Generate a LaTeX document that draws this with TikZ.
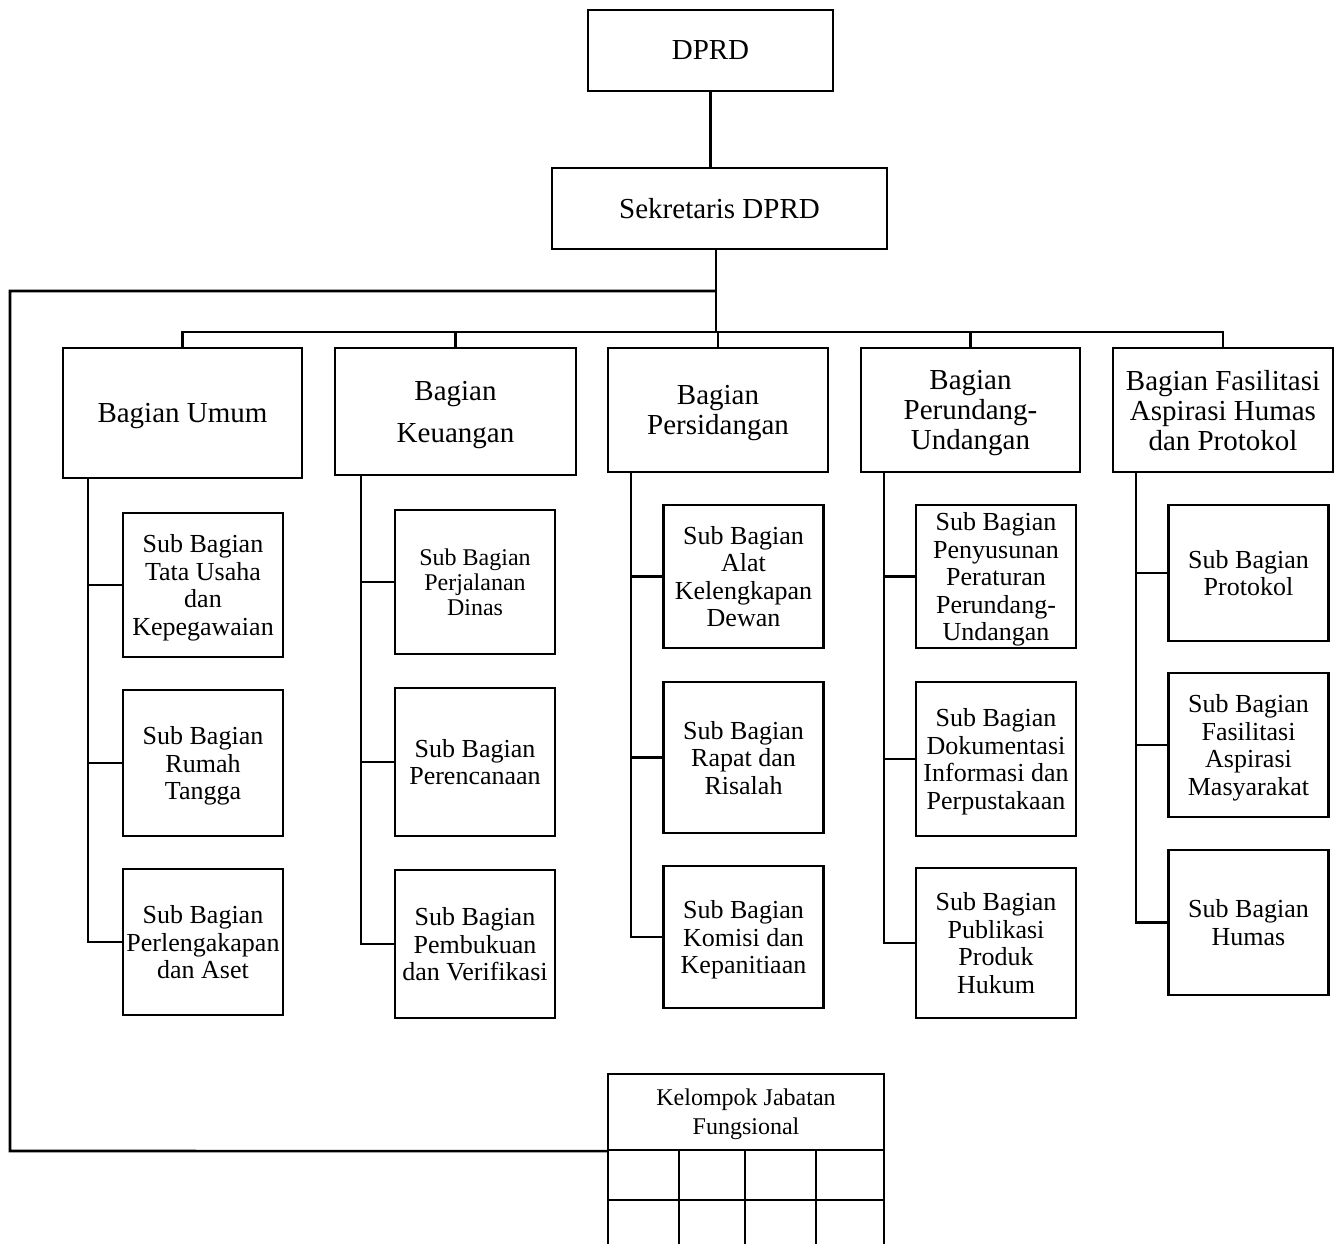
\documentclass[tikz,border=0pt]{standalone}
\usepackage{fontspec}
\setmainfont{Liberation Serif}
\usepackage{tikz}
\usetikzlibrary{positioning}
\tikzset{
  org diagram/.style={x=1pt, y=-1pt, line join=miter},
  org box/.style={draw, line width=2.2pt, inner sep=2pt, align=center,
    text depth=0pt, font=\fontsize{29}{30}\selectfont},
  org head box/.style={org box, minimum height=124pt},
  org sub box/.style={org box, minimum width=160pt,
    font=\fontsize{26}{27.5}\selectfont},
  org small/.style={font=\fontsize{24}{25}\selectfont},
  org line/.style={draw, line width=2.6pt},
  org grid/.style={draw, line width=2.2pt}
}

\begin{document}
\begin{tikzpicture}[org diagram]
\useasboundingbox (0,0) rectangle (1341,1243);
% top
\node[org box, minimum width=245pt, minimum height=81pt] (dprd) at (710.5,50.5) {DPRD};
\node[org box, minimum width=335pt, minimum height=81pt] (sek) at (719.5,208.5) {Sekretaris DPRD};
% bagian
\node[org head box, minimum width=239pt, minimum height=130pt] (umum) at (182.5,413) {Bagian Umum};
\node[org head box, minimum width=241pt, minimum height=127pt] (keu) at (455.5,411.5) {Bagian\\[12pt]Keuangan};
\node[org head box, minimum width=220pt] (sid) at (718,410) {Bagian\\Persidangan};
\node[org head box, minimum width=219pt] (pu) at (970.5,410) {Bagian\\Perundang-\\Undangan};
\node[org head box, minimum width=220pt] (fas) at (1223,410) {Bagian Fasilitasi\\Aspirasi Humas\\dan Protokol};
% sub bagian umum
\node[org sub box, minimum height=144pt] (su1) at (203,585) {Sub Bagian\\Tata Usaha\\dan\\Kepegawaian};
\node[org sub box, minimum height=146pt] (su2) at (203,763) {Sub Bagian\\Rumah\\Tangga};
\node[org sub box, minimum height=146pt] (su3) at (203,942) {Sub Bagian\\Perlengakapan\\dan Aset};
% sub bagian keuangan
\node[org sub box, org small, minimum height=144pt] (sk1) at (475,582) {Sub Bagian\\Perjalanan\\Dinas};
\node[org sub box, minimum height=148pt] (sk2) at (475,762) {Sub Bagian\\Perencanaan};
\node[org sub box, minimum height=148pt] (sk3) at (475,944) {Sub Bagian\\Pembukuan\\dan Verifikasi};
% sub bagian persidangan
\node[org sub box, minimum height=143pt] (ss1) at (743.5,576.5) {Sub Bagian\\Alat\\Kelengkapan\\Dewan};
\node[org sub box, minimum height=151pt] (ss2) at (743.5,757.5) {Sub Bagian\\Rapat dan\\Risalah};
\node[org sub box, minimum height=142pt] (ss3) at (743.5,937) {Sub Bagian\\Komisi dan\\Kepanitiaan};
% sub bagian perundang-undangan
\node[org sub box, minimum height=143pt] (sp1) at (996,576.5) {Sub Bagian\\Penyusunan\\Peraturan\\Perundang-\\Undangan};
\node[org sub box, minimum height=154pt] (sp2) at (996,759) {Sub Bagian\\Dokumentasi\\Informasi dan\\Perpustakaan};
\node[org sub box, minimum height=150pt] (sp3) at (996,943) {Sub Bagian\\Publikasi\\Produk\\Hukum};
% sub bagian fasilitasi
\node[org sub box, minimum height=136pt] (sf1) at (1248.5,573) {Sub Bagian\\Protokol};
\node[org sub box, minimum height=144pt] (sf2) at (1248.5,745) {Sub Bagian\\Fasilitasi\\Aspirasi\\Masyarakat};
\node[org sub box, minimum height=145pt] (sf3) at (1248.5,922.5) {Sub Bagian\\Humas};
% fungsional
\node[org box, org small, minimum width=276pt, minimum height=76pt,
  font=\fontsize{24}{29}\selectfont] (kjf) at (746,1112) {Kelompok Jabatan\\Fungsional};
\foreach \x in {608,679,745,816,884}
  \draw[org grid] (\x,1150) -- (\x,1250);
\draw[org grid] (608,1200) -- (884,1200);

% connectors
\coordinate (bus) at (716,332);
\coordinate (loop) at (716,291);
\coordinate (corner) at (10,1151);
\draw[org line] (dprd.south) -- (dprd.south |- sek.north);
\draw[org line] (sek.south -| bus) -- (bus);
\draw[org line] (loop) -| (corner) -- (kjf.south west);
\draw[org line] (umum.north) |- (bus) -| (fas.north);
\draw[org line] (keu.north) -- (keu.north |- bus);
\draw[org line] (sid.north) -- (sid.north |- bus);
\draw[org line] (pu.north) -- (pu.north |- bus);

\coordinate (tu) at (88,0);
\coordinate (tk) at (361,0);
\coordinate (ts) at (631,0);
\coordinate (tp) at (884,0);
\coordinate (tf) at (1136,0);
\draw[org line] (tu |- umum.south) |- (su3.west);
\draw[org line] (su1.west) -- (su1.west -| tu);
\draw[org line] (su2.west) -- (su2.west -| tu);
\draw[org line] (tk |- keu.south) |- (sk3.west);
\draw[org line] (sk1.west) -- (sk1.west -| tk);
\draw[org line] (sk2.west) -- (sk2.west -| tk);
\draw[org line] (ts |- sid.south) |- (ss3.west);
\draw[org line] (ss1.west) -- (ss1.west -| ts);
\draw[org line] (ss2.west) -- (ss2.west -| ts);
\draw[org line] (tp |- pu.south) |- (sp3.west);
\draw[org line] (sp1.west) -- (sp1.west -| tp);
\draw[org line] (sp2.west) -- (sp2.west -| tp);
\draw[org line] (tf |- fas.south) |- (sf3.west);
\draw[org line] (sf1.west) -- (sf1.west -| tf);
\draw[org line] (sf2.west) -- (sf2.west -| tf);
\end{tikzpicture}
\end{document}
